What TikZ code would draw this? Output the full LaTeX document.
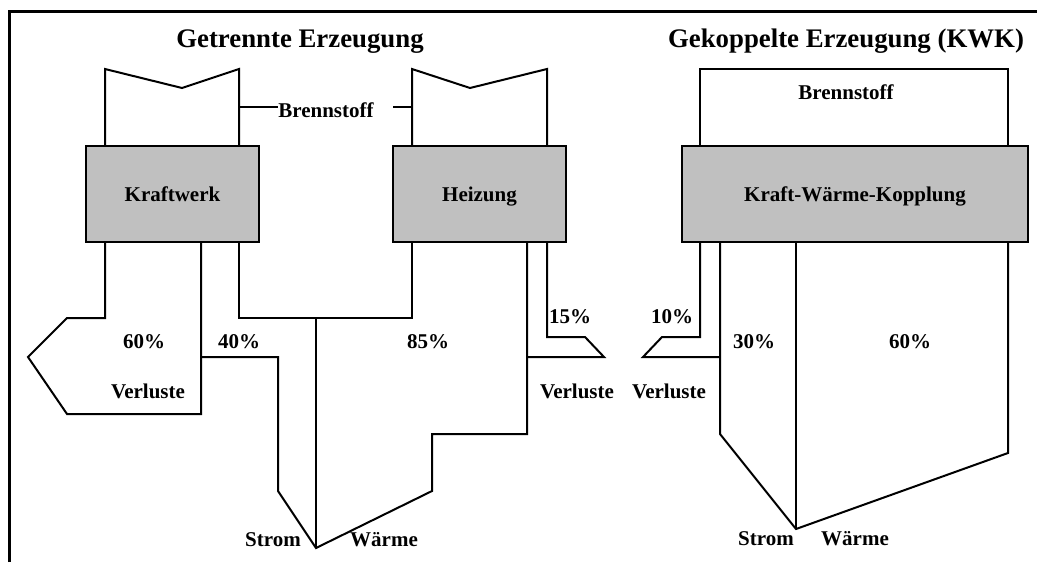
\documentclass[tikz,border=0pt]{standalone}
\usepackage{fontspec}
\setmainfont{Liberation Serif}
\definecolor{unitgray}{RGB}{192,192,192}

\begin{document}
\begin{tikzpicture}[x=0.5pt,y=-0.5pt,line width=1pt,
  every node/.style={font=\fontsize{10.5}{12}\selectfont\bfseries, inner sep=0pt, outer sep=0pt},
  lbl/.style={anchor=base},
  head/.style={anchor=base, font=\fontsize{13.4}{15}\selectfont\bfseries},
  unit/.style={draw, fill=unitgray, line width=1.2pt, minimum height=48pt, text height=7.5pt, text depth=0pt}]
\useasboundingbox (0,0) rectangle (1037,562);
\draw[line width=1.5pt] (9,562) -- (9,11) -- (1037,11);

\node[head] (getrennt) at (300,47) {Getrennte Erzeugung};
\node[head] (gekoppelt) at (846,47) {Gekoppelte Erzeugung (KWK)};

\draw (105,146) -- (105,69) -- (182,88) -- (239,69) -- (239,146);
\draw (412,146) -- (412,69) -- (470,88) -- (547,69) -- (547,146);
\node[lbl] (brennstoffa) at (326,117) {Brennstoff};
\draw (239,107) -- (278,107);
\draw (393,107) -- (412,107);

\draw (105,242) -- (105,318) -- (67,318) -- (28,357) -- (67,414) -- (201,414) -- (201,242);
\draw (201,357) -- (278,357) -- (278,491) -- (316,548) -- (432,491) -- (432,434) -- (527,434) -- (527,242);
\draw (239,242) -- (239,318) -- (412,318) -- (412,242);
\draw (316,318) -- (316,548);
\draw (547,242) -- (547,337) -- (585,337) -- (604,357) -- (527,357);

\node[unit, minimum width=86.5pt] (kraftwerk) at (172.5,194) {Kraftwerk};
\node[unit, minimum width=86.5pt] (heizung) at (479.5,194) {Heizung};

\node[lbl] (va) at (144,348) {60\%};
\node[lbl] (sa) at (239,348) {40\%};
\node[lbl] (wa) at (428,348) {85\%};
\node[lbl] (vb) at (570,323) {15\%};
\node[lbl] (verlustea) at (148,398) {Verluste};
\node[lbl] (verlusteb) at (577,398) {Verluste};
\node[lbl] (stroma) at (273,546) {Strom};
\node[lbl] (waermea) at (384,546) {Wärme};

\draw (700,146) -- (700,69) -- (1008,69) -- (1008,146);
\node[lbl] (brennstoffb) at (846,99) {Brennstoff};
\draw (700,242) -- (700,337) -- (662,337) -- (643,357) -- (720,357);
\draw (720,242) -- (720,434) -- (796,529) -- (1008,453) -- (1008,242);
\draw (796,242) -- (796,529);

\node[unit, minimum width=173pt] (kwk) at (855,194) {Kraft-Wärme-Kopplung};

\node[lbl] (vc) at (672,323) {10\%};
\node[lbl] (sc) at (754,348) {30\%};
\node[lbl] (wc) at (910,348) {60\%};
\node[lbl] (verlustec) at (669,398) {Verluste};
\node[lbl] (stromc) at (766,545) {Strom};
\node[lbl] (waermec) at (855,545) {Wärme};
\end{tikzpicture}
\end{document}
